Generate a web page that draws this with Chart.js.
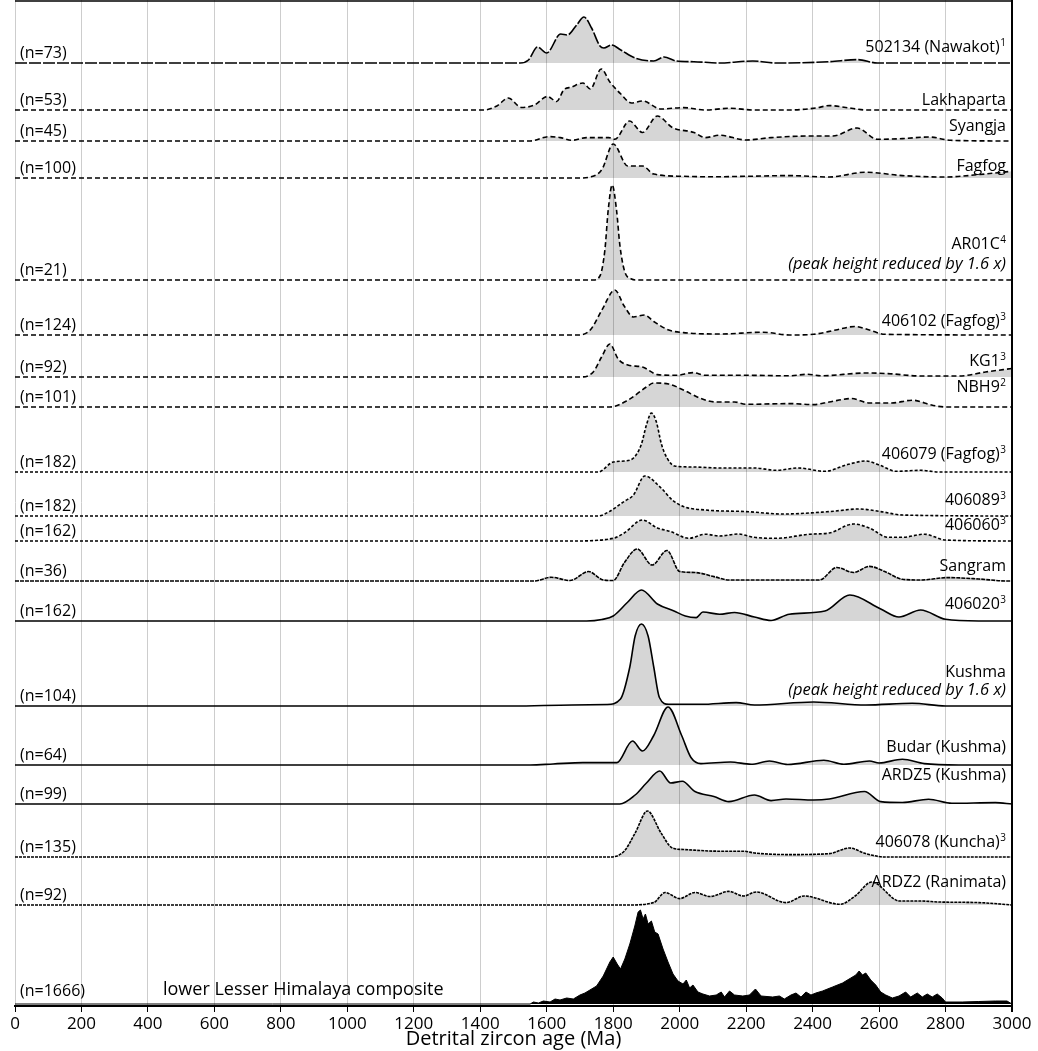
<!DOCTYPE html>
<html>
<head>
<meta charset="utf-8">
<script src="https://cdn.jsdelivr.net/npm/chart.js@4.4.1/dist/chart.umd.min.js"></script>
<style>
  html, body { margin: 0; padding: 0; background: #fff; }
  #wrap { width: 1038px; height: 1051px; }
</style>
</head>
<body>
<div id="wrap"><canvas id="zircon-chart"></canvas></div>
<script>
// Detrital zircon age spectra, one row per sample.
// Each pair is [age (Ma), curve height above the row baseline].
const s502134 = [[0,0],[1520,0],[1545,3],[1572,16],[1600,10],[1642,29],[1662,28],[1690,38],[1712,46],[1735,35],[1760,17],[1772,15],[1795,18],[1823,13],[1866,5],[1922,2],[1953,6],[1990,2],[2043,1.3],[2120,0],[2220,2],[2290,0],[2450,1.3],[2535,3.4],[2595,0],[3000,0]];
const sLakhaparta = [[0,0],[1410,0],[1450,4],[1484,12],[1524,2.5],[1563,5],[1602,13.5],[1630,8.5],[1651,20],[1675,23],[1709,27],[1731,21],[1764,41],[1790,28],[1823,16],[1855,7],[1888,9],[1944,1],[2011,2.4],[2077,0],[2150,1.7],[2225,0],[2330,0],[2410,2],[2450,4.4],[2517,1.7],[2560,0],[3000,0]];
const sSyangja = [[0,0],[1550,0],[1608,4.4],[1641,3.4],[1675,0.7],[1720,3.4],[1787,3.4],[1805,1.7],[1849,20],[1888,8.5],[1933,25],[1978,13.5],[2043,8.5],[2077,3.4],[2120,5.8],[2200,1],[2275,3.4],[2392,5],[2461,5],[2534,13],[2595,1.7],[2670,2.4],[2752,4],[2815,0.7],[3000,0]];
const sFagfog = [[0,0],[1700,0],[1731,1],[1766,8.5],[1800,34],[1844,12],[1888,12],[1922,4],[2011,1.7],[2100,1.2],[2200,1.7],[2330,2.4],[2450,1],[2560,5.8],[2670,2.4],[2800,1],[2900,3.4],[3000,6.8]];
const sAR01C = [[0,0],[1740,0],[1760,4],[1775,30],[1785,70],[1797,95],[1810,70],[1820,35],[1835,8],[1855,1],[1870,0],[3000,0]];
const s406102 = [[0,0],[1698,0],[1731,5],[1766,25],[1805,45],[1833,29],[1861,18],[1894,20],[1922,13.5],[1967,5],[2011,2.4],[2120,1],[2250,2.8],[2330,0],[2403,0.7],[2470,5],[2527,8.5],[2571,5],[2617,0.7],[3000,0]];
const sKG1 = [[0,0],[1700,0],[1740,5],[1765,20],[1790,33],[1815,18],[1844,12],[1888,10],[1933,2.4],[1990,1.7],[2040,4.4],[2077,1.7],[2200,1.7],[2330,1.2],[2385,2.7],[2425,1.2],[2560,4],[2627,3.4],[2725,1],[2840,1],[2920,5],[3000,8.5]];
const sNBH9 = [[0,0],[1790,0],[1844,6.8],[1900,20],[1922,24],[1967,23],[2011,17],[2064,8.5],[2109,5],[2165,5],[2200,2.7],[2330,3.4],[2403,2.4],[2450,5],[2517,8.5],[2571,4],[2638,4],[2700,6.8],[2761,1.7],[2800,0],[3000,0]];
const s406079 = [[0,0],[1755,0],[1800,10],[1833,11],[1861,14],[1885,28],[1900,47],[1915,59],[1930,50],[1945,28],[1962,14],[1985,6],[2043,5],[2120,4],[2225,4],[2290,1.7],[2357,4],[2437,0.7],[2505,7.5],[2560,11],[2605,6.4],[2650,0.7],[2725,1.7],[2780,0],[3000,0]];
const s406089 = [[0,0],[1755,0],[1788,4.4],[1833,14.6],[1861,21],[1895,40],[1944,28],[1978,16],[2011,9.5],[2077,6],[2200,4.4],[2310,2],[2450,4.4],[2540,7],[2605,4.4],[2670,1],[3000,0]];
const s406060 = [[0,0],[1675,0],[1800,2.7],[1833,8],[1888,21],[1933,13],[1972,9.5],[2028,2.7],[2077,6.8],[2120,5],[2175,7],[2225,3.7],[2290,2.7],[2392,6.8],[2450,8],[2523,17],[2571,13],[2627,3.7],[2670,3.7],[2736,6.8],[2800,1],[3000,0]];
const sSangram = [[0,0],[1563,0],[1613,3.7],[1670,0.5],[1726,9.5],[1770,1],[1800,0.5],[1833,18],[1872,32],[1917,16],[1962,30.5],[2000,9.5],[2046,8.5],[2103,4.4],[2148,1],[2420,1],[2473,13.5],[2523,8.5],[2571,14.6],[2617,9.5],[2670,1.7],[2725,1],[2808,3.4],[2900,2],[2985,0],[3000,0]];
const s406020 = [[0,0],[1720,0],[1766,1.5],[1800,5],[1844,19],[1885,31],[1933,17],[1983,10],[2017,5],[2050,3.4],[2070,9],[2120,6.8],[2165,8.5],[2225,4],[2275,0.5],[2330,6.8],[2437,10],[2512,26],[2605,12],[2660,4],[2725,11],[2800,1.7],[2900,0],[3000,0]];
const sKushma = [[0,0],[1500,0],[1675,1],[1780,1.5],[1822,7],[1850,39],[1866,70],[1885,82],[1905,70],[1922,39],[1939,8.5],[1967,1.7],[2064,1.7],[2170,3.4],[2225,1],[2403,4],[2560,1],[2700,2.7],[2800,0],[3000,0]];
const sBudar = [[0,0],[1550,0],[1619,1],[1709,2.4],[1811,2.4],[1858,24],[1888,14],[1922,29.5],[1965,58],[2006,29.5],[2034,7.5],[2064,1.4],[2153,3],[2215,0.7],[2270,4],[2325,0.5],[2434,4.7],[2494,0.7],[2571,4],[2600,2],[2670,5.8],[2736,1.4],[2840,0],[3000,0]];
const sARDZ5 = [[0,0],[1820,0],[1866,9],[1900,21],[1940,33],[1973,21],[2008,22.7],[2046,12.5],[2103,7.5],[2148,2.4],[2225,9],[2275,3.4],[2320,5],[2403,4],[2450,5],[2556,12.5],[2605,2.4],[2670,1.5],[2749,4.7],[2819,0.7],[2950,1.4],[3000,0]];
const s406078 = [[0,0],[1790,0],[1833,5.8],[1866,24],[1903,46],[1944,24],[1978,9],[2011,7.5],[2120,5.8],[2192,5.8],[2225,4],[2330,2.4],[2450,3.4],[2511,9],[2560,3.4],[2617,0],[3000,0]];
const sARDZ2 = [[0,0],[1844,0],[1922,2.4],[1956,12.5],[2000,6.4],[2046,12.5],[2091,8.5],[2148,13.6],[2192,9],[2230,13],[2320,2.4],[2375,9],[2483,0.7],[2528,9],[2578,23],[2662,4],[2725,4],[2780,3],[2900,2.4],[3000,0]];
const sComposite = [[0,0],[1550,0],[1560,2],[1575,1],[1590,3],[1610,2],[1625,5],[1640,4],[1660,6],[1680,5],[1700,9],[1715,11],[1730,14],[1750,18],[1770,28],[1790,42],[1800,47],[1812,40],[1822,35],[1835,45],[1850,60],[1865,78],[1875,92],[1882,94],[1890,85],[1897,90],[1905,80],[1915,83],[1925,72],[1935,70],[1950,55],[1965,42],[1980,30],[1995,23],[2010,20],[2020,24],[2030,16],[2040,19],[2055,12],[2070,10],[2090,8],[2110,9],[2125,12],[2135,7],[2150,13],[2165,9],[2190,8],[2210,9],[2228,15],[2245,8],[2280,7],[2300,8],[2315,5],[2335,9],[2350,11],[2365,7],[2380,12],[2395,9],[2410,11],[2430,13],[2460,17],[2490,21],[2515,26],[2530,29],[2540,33],[2550,29],[2560,31],[2575,24],[2590,19],[2605,12],[2620,9],[2640,6],[2660,8],[2680,12],[2695,7],[2715,11],[2730,7],[2745,10],[2760,7],[2775,10],[2790,6],[2800,2],[2850,2],[2900,2.5],[2950,3],[2985,3],[3000,0]];

const samples = [s502134, sLakhaparta, sSyangja, sFagfog, sAR01C, s406102, sKG1, sNBH9, s406079, s406089, s406060, sSangram, s406020, sKushma, sBudar, sARDZ5, s406078, sARDZ2, sComposite];
const sampleNames = ['502134 (Nawakot)', 'Lakhaparta', 'Syangja', 'Fagfog', 'AR01C', '406102 (Fagfog)', 'KG1', 'NBH9', '406079 (Fagfog)', '406089', '406060', 'Sangram', '406020', 'Kushma', 'Budar (Kushma)', 'ARDZ5 (Kushma)', '406078 (Kuncha)', 'ARDZ2 (Ranimata)', 'lower Lesser Himalaya composite'];
const sampleRefs = ['1', '', '', '', '4', '3', '3', '2', '3', '3', '3', '', '3', '', '', '', '3', '', ''];
const sampleCounts = [73, 53, 45, 100, 21, 124, 92, 101, 182, 182, 162, 36, 162, 104, 64, 99, 135, 92, 1666];
const reducedNote = '(peak height reduced by 1.6 x)';
const reducedRows = [4, 13];
const xTicks = [0, 200, 400, 600, 800, 1000, 1200, 1400, 1600, 1800, 2000, 2200, 2400, 2600, 2800, 3000];

// layout of the stack (baseline of each row on the vertical axis) and label offsets
const rowBase = [63, 110, 141, 178, 280, 335, 377, 407, 472, 516, 541, 581, 621, 706, 765, 804, 857, 905, 1004];
const labelRise = [11, 5, 10, 7, 31, 9, 11, 15, 13, 11, 11, 10, 12, 29, 13, 24, 10, 18, 0];
const rowDash = [[12, 2], [5, 3], [5, 3], [5, 3], [5, 3], [5, 3], [5, 3], [5, 3], [3, 2], [3, 2], [3, 2], [4, 1], [], [], [], [], [3, 1], [3, 1], []];
const LAST = samples.length - 1;
const FONT = '"Open Sans", "DejaVu Sans", sans-serif';

const datasets = samples.map((s, i) => ({
    label: sampleNames[i],
    data: s.map(p => ({ x: p[0], y: rowBase[i] - p[1] })),
    borderColor: '#000',
    borderWidth: i === LAST ? 1 : 1.6,
    borderDash: rowDash[i],
    backgroundColor: i === LAST ? '#000' : 'rgba(0, 0, 0, 0.16)',
    fill: { value: rowBase[i] },
    pointRadius: 0,
    tension: i === LAST ? 0 : 0.4,
    cubicInterpolationMode: i === LAST ? 'default' : 'monotone'
}));

// sample names, n counts and the frame
const rowLabels = {
    id: 'rowLabels',
    afterDatasetsDraw(chart) {
        const ctx = chart.ctx;
        const area = chart.chartArea;
        const y = chart.scales.y;
        ctx.save();
        ctx.fillStyle = '#000';
        ctx.textBaseline = 'alphabetic';

        sampleCounts.forEach((n, i) => {
            const yb = y.getPixelForValue(rowBase[i]);
            ctx.font = '16px ' + FONT;
            ctx.textAlign = 'left';
            ctx.fillText('(n=' + n + ')', area.left + 5, yb - (i === LAST ? 8 : 5));

            if (i === LAST) {
                ctx.font = '18px ' + FONT;
                ctx.fillText(sampleNames[i], 163, yb - 9);
                return;
            }

            const ty = yb - labelRise[i];
            let xr = area.right - 6;
            ctx.textAlign = 'right';
            if (sampleRefs[i]) {
                ctx.font = '10px ' + FONT;
                ctx.fillText(sampleRefs[i], xr, ty - 6);
                xr -= ctx.measureText(sampleRefs[i]).width + 0.5;
            }
            ctx.font = '16px ' + FONT;
            ctx.fillText(sampleNames[i], xr, ty);

            if (reducedRows.includes(i)) {
                ctx.font = 'italic 16.5px ' + FONT;
                ctx.fillText(reducedNote, area.right - 6, yb - 11);
            }
        });

        // top frame line
        ctx.strokeStyle = '#000';
        ctx.lineWidth = 1.5;
        ctx.beginPath();
        ctx.moveTo(area.left, area.top + 1);
        ctx.lineTo(area.right, area.top + 1);
        ctx.stroke();
        ctx.restore();
    }
};

new Chart(document.getElementById('zircon-chart'), {
    type: 'line',
    data: { datasets: datasets },
    options: {
        responsive: true,
        maintainAspectRatio: false,
        animation: false,
        layout: { padding: { left: 15, right: 26, top: 0, bottom: 0 } },
        plugins: {
            legend: { display: false },
            tooltip: { enabled: false }
        },
        scales: {
            x: {
                type: 'linear',
                min: 0,
                max: 3000,
                afterBuildTicks: axis => { axis.ticks = xTicks.map(v => ({ value: v })); },
                afterFit: axis => { axis.height = 45; },
                ticks: {
                    color: '#000',
                    autoSkip: false,
                    maxRotation: 0,
                    padding: 4,
                    font: { family: FONT, size: 17, lineHeight: 1 },
                    callback: value => String(value)
                },
                grid: {
                    color: c => (c.tick && c.tick.value === 3000) ? '#000' : '#cdcdcd',
                    lineWidth: c => (c.tick && c.tick.value === 3000) ? 2 : 1,
                    tickColor: '#000',
                    tickLength: 6
                },
                border: { color: '#000', width: 2 },
                title: {
                    display: true,
                    text: 'Detrital zircon age (Ma)',
                    color: '#000',
                    font: { family: FONT, size: 20, lineHeight: 1 },
                    padding: { top: 0, bottom: 2 }
                }
            },
            y: {
                display: false,
                reverse: true,
                min: 0,
                max: 1006
            }
        }
    },
    plugins: [rowLabels]
});
</script>
</body>
</html>
